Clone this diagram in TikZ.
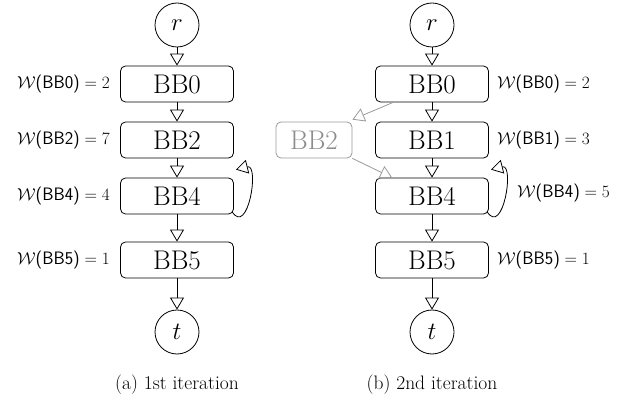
\documentclass[tikz,border=0pt]{standalone}
\usetikzlibrary{arrows.meta,calc}
\begin{document}
\begin{tikzpicture}[x=1pt,y=-1pt,
  bb/.style={draw,rounded corners=5pt,minimum width=113pt,minimum height=36pt,inner sep=0pt,line width=0.8pt,font=\fontsize{27}{29}\selectfont},
  term/.style={draw,circle,minimum size=44pt,inner sep=0pt,line width=0.8pt,font=\fontsize{29}{31}\selectfont},
  arr/.style={line width=0.8pt,-{Triangle[open,width=14pt,length=12pt,line width=0.8pt]}},
  garr/.style={arr,draw=black!40},
  wlab/.style={font=\fontsize{19}{21}\selectfont,inner sep=0pt},
  captext/.style={font=\fontsize{19.5}{21}\selectfont,inner sep=0pt},
  gbb/.style={bb,draw=black!40,text=black!45,minimum width=76pt}
]
\useasboundingbox (0,0) rectangle (619,398);
\newcommand{\wl}[2]{$\mathcal{W}$\textsf{\fontsize{18}{20}\selectfont(#1)}${}=#2$}
% (a)
\node[term] (ra) at (177,25) {$r$};
\node[bb] (a0) at (177,84) {BB0};
\node[bb] (a2) at (177,140) {BB2};
\node[bb] (a4) at (177,196) {BB4};
\node[bb] (a5) at (177,260) {BB5};
\node[term] (ta) at (177,332) {$t$};
\draw[arr] (ra) -- (a0);
\draw[arr] (a0) -- (a2);
\draw[arr] (a2) -- (a4);
\draw[arr] (a4) -- (a5);
\draw[arr] (a5) -- (ta);
\draw[arr] ($(a4.south east)+(-2,-3)$) .. controls +(16,26) and +(24,-6) .. ($(a4.north east)+(2,-8)$);
\node[wlab,anchor=east] (la0) at (110,84) {\wl{BB0}{2}};
\node[wlab,anchor=east] (la2) at (110,140) {\wl{BB2}{7}};
\node[wlab,anchor=east] (la4) at (110,196) {\wl{BB4}{4}};
\node[wlab,anchor=east] (la5) at (110,260) {\wl{BB5}{1}};
\node[captext] (capa) at (177,385) {(a) 1st iteration};
% (b)
\node[term] (rb) at (432,25) {$r$};
\node[bb] (b0) at (432,84) {BB0};
\node[bb] (b1) at (432,140) {BB1};
\node[gbb] (b2) at (314,140) {BB2};
\node[bb] (b4) at (432,196) {BB4};
\node[bb] (b5) at (432,260) {BB5};
\node[term] (tb) at (432,332) {$t$};
\draw[arr] (rb) -- (b0);
\draw[arr] (b0) -- (b1);
\draw[arr] (b1) -- (b4);
\draw[arr] (b4) -- (b5);
\draw[arr] (b5) -- (tb);
\draw[garr] ($(b0.south west)+(18,0)$) -- ($(b2.north east)+(0,-2)$);
\draw[garr] (b2.south east) -- ($(b4.north west)+(17,0)$);
\draw[arr] ($(b4.south east)+(-2,-3)$) .. controls +(16,26) and +(24,-6) .. ($(b4.north east)+(2,-8)$);
\node[wlab,anchor=west] (lb0) at (497,84) {\wl{BB0}{2}};
\node[wlab,anchor=west] (lb1) at (497,140) {\wl{BB1}{3}};
\node[wlab,anchor=west] (lb4) at (517,193) {\wl{BB4}{5}};
\node[wlab,anchor=west] (lb5) at (497,260) {\wl{BB5}{1}};
\node[captext] (capb) at (432,385) {(b) 2nd iteration};
\end{tikzpicture}
\end{document}
